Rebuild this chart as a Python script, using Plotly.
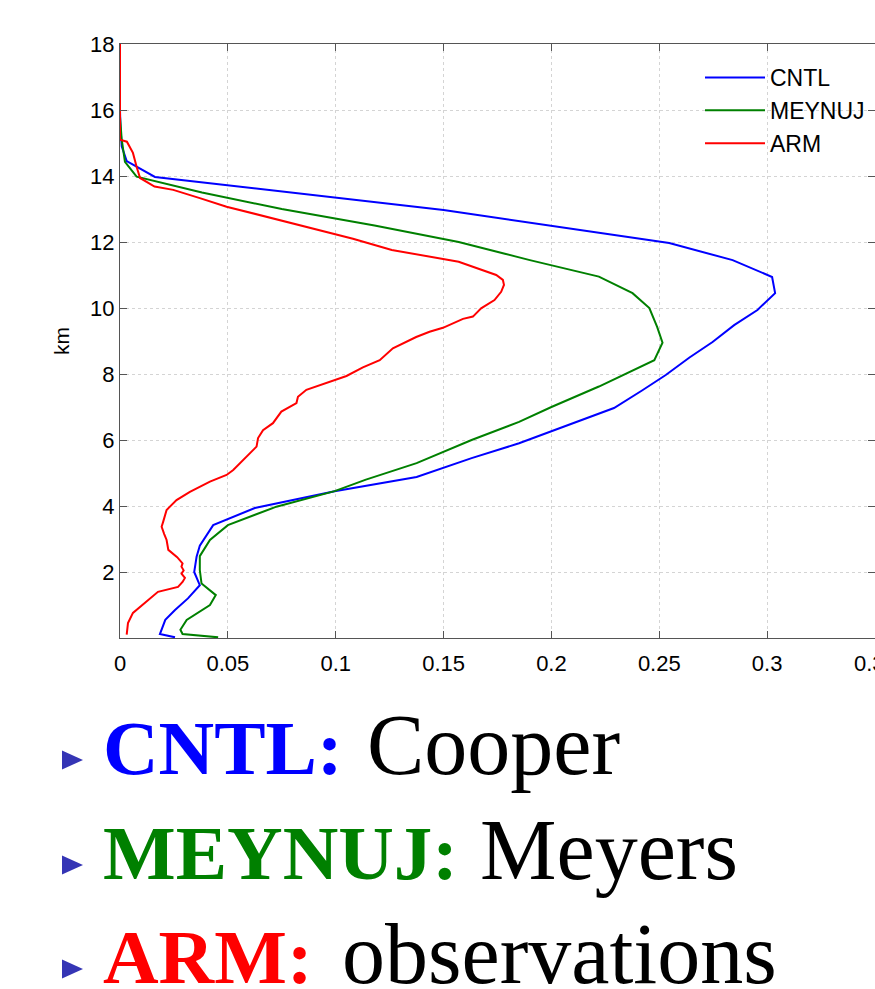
import plotly.graph_objects as go

# ---------------- data ----------------
cntl_km = [0.02, 0.12, 0.55, 0.85, 1.2, 1.6, 2.0, 2.46, 2.8, 3.42, 3.94, 4.45, 4.88, 5.45,
           5.9, 6.5, 6.97, 7.5, 7.97, 8.5, 8.97, 9.48, 9.94, 10.45, 10.94, 11.45, 11.97,
           12.97, 13.97, 14.45, 14.9, 15.5, 16.0]
cntl_x = [0.0255, 0.0185, 0.021, 0.0255, 0.0315, 0.037, 0.0344, 0.0355, 0.037, 0.0432,
          0.0625, 0.0995, 0.1375, 0.163, 0.185, 0.21, 0.229, 0.242, 0.253, 0.264, 0.2747,
          0.2847, 0.2955, 0.3037, 0.3023, 0.284, 0.2546, 0.15, 0.0162, 0.0031, 0.0008,
          0.0002, 0.0]

meyn_km = [0.02, 0.12, 0.25, 0.55, 1.0, 1.3, 1.65, 2.06, 2.48, 2.97, 3.42, 3.73, 3.98,
           4.45, 4.8, 5.3, 6.0, 6.55, 7.0, 7.62, 8.02, 8.42, 8.95, 9.43, 10.0, 10.45,
           10.95, 11.45, 12.0, 12.5, 13.0, 13.5, 13.98, 14.43, 15.1, 15.8]
meyn_x = [0.0455, 0.029, 0.028, 0.0309, 0.0417, 0.0444, 0.0378, 0.037, 0.037, 0.0417,
          0.05, 0.0625, 0.0725, 0.0995, 0.114, 0.1375, 0.163, 0.185, 0.2, 0.222, 0.235,
          0.2477, 0.2515, 0.249, 0.2454, 0.2376, 0.222, 0.19, 0.157, 0.118, 0.075, 0.038,
          0.0077, 0.0023, 0.0008, 0.0]

arm_km = [0.1, 0.45, 0.76, 1.06, 1.4, 1.55, 1.7, 1.82, 1.95, 2.05, 2.16, 2.26, 2.36, 2.45,
          2.67, 2.97, 3.15, 3.37, 3.52, 3.88, 4.18, 4.43, 4.74, 4.94, 5.09, 5.49, 5.8,
          6.06, 6.3, 6.51, 6.66, 6.86, 7.12, 7.31, 7.52, 7.74, 7.94, 8.2, 8.42, 8.78,
          9.12, 9.28, 9.4, 9.67, 9.74, 9.99, 10.24, 10.49, 10.7, 10.85, 11.0, 11.4, 11.6,
          11.76, 12.1, 12.4, 12.7, 12.97, 13.07, 13.33, 13.58, 13.68, 13.94, 14.28, 14.7,
          15.04, 15.1, 18.0]
arm_x = [0.0031, 0.0037, 0.006, 0.0116, 0.0176, 0.0269, 0.029, 0.0301, 0.0285, 0.0295,
         0.0285, 0.029, 0.0278, 0.0265, 0.0224, 0.0216, 0.0205, 0.0193, 0.02, 0.0216,
         0.0262, 0.0324, 0.0417, 0.0494, 0.0525, 0.0586, 0.0633, 0.064, 0.0663, 0.0709,
         0.0725, 0.0748, 0.0818, 0.0825, 0.0864, 0.0957, 0.105, 0.1126, 0.1204, 0.1265,
         0.1373, 0.1435, 0.1497, 0.159, 0.1636, 0.1674, 0.1736, 0.1767, 0.178, 0.1775,
         0.1744, 0.157, 0.139, 0.126, 0.108, 0.09, 0.072, 0.0556, 0.0494, 0.037, 0.0247,
         0.016, 0.0093, 0.0077, 0.006, 0.0032, 0.0, 0.0]

series_names = ["CNTL", "MEYNUJ", "ARM"]
series_colors = ["#0000ff", "#008000", "#ff0000"]

x_tickvals = [0, 0.05, 0.1, 0.15, 0.2, 0.25, 0.3, 0.35]
x_ticktext = ["0", "0.05", "0.1", "0.15", "0.2", "0.25", "0.3", "0.35"]
y_tickvals = [2, 4, 6, 8, 10, 12, 14, 16, 18]
y_ticktext = ["2", "4", "6", "8", "10", "12", "14", "16", "18"]

bullet_labels = ["CNTL:", "MEYNUJ:", "ARM:"]
bullet_texts = ["Cooper", "Meyers", "observations"]

# ---------------- layout helpers ----------------
W, H = 875, 989
L, R, T, B = 120, 0, 44, 351
PW, PH = W - L - R, H - T - B


def px(xp):
    return (xp - L) / PW


def py(yp):
    return (H - B - yp) / PH


fig = go.Figure()
for xs, ys, name, col in zip([cntl_x, meyn_x, arm_x], [cntl_km, meyn_km, arm_km],
                             series_names, series_colors):
    fig.add_trace(go.Scatter(x=xs, y=ys, mode="lines", name=name,
                             line=dict(color=col, width=2), legendgroup=name))

tick_font = dict(family="Liberation Sans, Arial", size=22, color="#000")
axis_common = dict(showline=True, linecolor="#555555", linewidth=1, mirror="ticks",
                   ticks="inside", ticklen=7, tickcolor="#555555", showgrid=True,
                   gridcolor="#d4d4d4", griddash="dot", gridwidth=1, zeroline=False,
                   automargin=False, tickfont=tick_font)

fig.update_xaxes(range=[0, 0.35], tickvals=x_tickvals, ticktext=x_ticktext,
                 ticklabelstandoff=6, **axis_common)
fig.update_yaxes(range=[0, 18], tickvals=y_tickvals, ticktext=y_ticktext,
                 title=dict(text="km", standoff=14,
                            font=dict(family="Liberation Sans, Arial", size=21, color="#000")),
                 **axis_common)

annotations = []
shapes = []
# last x tick label sits on the right edge of the page and is cut off there
annotations.append(dict(xref="x", yref="paper", x=x_tickvals[-1], y=py(663),
                        xanchor="center", yanchor="middle", showarrow=False,
                        text=x_ticktext[-1], font=tick_font))

baselines = [774, 879, 983]
label_left = 101
text_lefts = [365, 478, 340]
bold_size, reg_size = 77, 86
for i in range(3):
    b = baselines[i]
    annotations.append(dict(
        xref="paper", yref="paper", x=px(label_left), y=py(b - 0.3375 * bold_size),
        xanchor="left", yanchor="middle", showarrow=False,
        text="<b>" + bullet_labels[i] + "</b>",
        font=dict(family="Liberation Serif, Times New Roman", size=bold_size,
                  color=series_colors[i])))
    annotations.append(dict(
        xref="paper", yref="paper", x=px(text_lefts[i]), y=py(b - 0.3375 * reg_size),
        xanchor="left", yanchor="middle", showarrow=False,
        text=bullet_texts[i],
        font=dict(family="Liberation Serif, Times New Roman", size=reg_size, color="#000")))
    cy = b - 14
    path = "M {:.5f} {:.5f} L {:.5f} {:.5f} L {:.5f} {:.5f} Z".format(
        px(62), py(cy - 9.5), px(62), py(cy + 9.5), px(83), py(cy))
    shapes.append(dict(type="path", xref="paper", yref="paper", path=path,
                       fillcolor="#3535b5", line=dict(width=0)))

fig.update_layout(
    width=W, height=H, autosize=False,
    margin=dict(l=L, r=R, t=T, b=B, pad=0),
    paper_bgcolor="white", plot_bgcolor="white",
    showlegend=True,
    legend=dict(x=px(700), y=py(56), xanchor="left", yanchor="top",
                bgcolor="rgba(0,0,0,0)", borderwidth=0, itemwidth=60,
                tracegroupgap=0,
                font=dict(family="Liberation Sans, Arial", size=23, color="#000")),
    annotations=annotations, shapes=shapes,
)

fig.write_html("out.html")
